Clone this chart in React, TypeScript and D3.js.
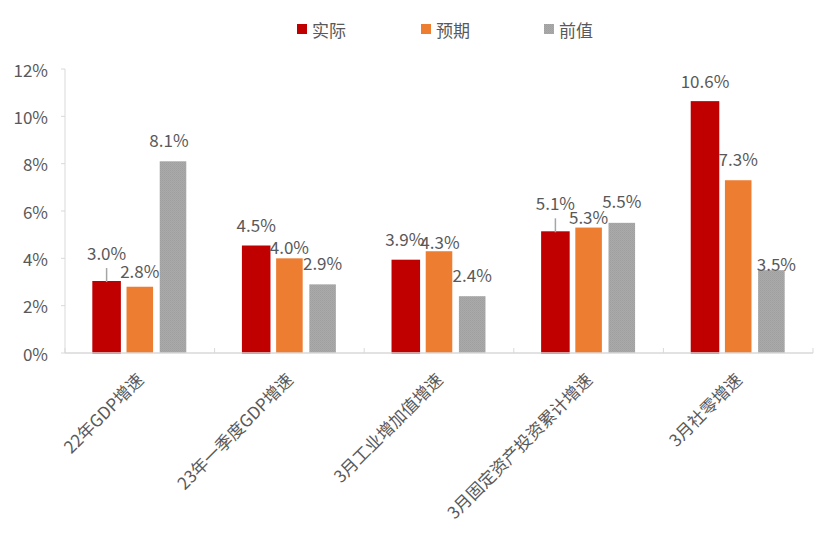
import React from "react";
import * as d3 from "d3";

const categories = ["22年GDP增速", "23年一季度GDP增速", "3月工业增加值增速", "3月固定资产投资累计增速", "3月社零增速"];
const seriesNames = ["实际", "预期", "前值"];
const actual = [3.0, 4.5, 3.9, 5.1, 10.6];
const expected = [2.8, 4.0, 4.3, 5.3, 7.3];
const previous = [8.1, 2.9, 2.4, 5.5, 3.5];
const yTicks = [0, 2, 4, 6, 8, 10, 12];

// label nudges (layout only) [series][category] -> [dx, dy]
const labelNudge: number[][][] = [
  [[0, -8], [0, 0], [-1, 0], [0, -8], [0, 0]],
  [[0, 6], [0, 10], [1, 12], [0, 11], [0, 0]],
  [[-4, 0], [0, 0], [0, 0], [0, 0], [5, 15]],
];
const leader: boolean[][] = [
  [true, false, false, true, false],
  [false, false, false, false, false],
  [false, false, false, false, false],
];

const W = 836, H = 536;
const M = { left: 65, right: 813, top: 69, bottom: 353 };
const colors = ["#C00000", "#ED7D31", "url(#grayPat)"];
const FONT = "'Noto Sans CJK SC', 'Noto Sans', sans-serif";
const TXT = "#595959";

export default function App() {
  const series = [actual, expected, previous];
  const x = d3.scaleBand<string>().domain(categories).range([M.left, M.right]).padding(0);
  const inner = d3.scaleBand<number>().domain([0, 1, 2]).range([25, x.bandwidth() - 25]).paddingInner(0.2).paddingOuter(0.1);
  const y = d3.scaleLinear().domain([0, 12]).range([M.bottom, M.top]);
  const bw = inner.bandwidth();

  const bounds = categories.map((c) => x(c)!).concat([M.right]);

  return (
    <svg width={W} height={H} style={{ position: "absolute", left: 0, top: 0, background: "#fff" }} fontFamily={FONT}>
      <defs>
        <pattern id="grayPat" width="2" height="2" patternUnits="userSpaceOnUse">
          <rect width="2" height="2" fill="#AAAAAA" />
          <rect width="1" height="1" fill="#9F9F9F" />
          <rect x="1" y="1" width="1" height="1" fill="#A3A3A3" />
        </pattern>
      </defs>
      {/* y axis */}
      <line x1={M.left} x2={M.left} y1={M.top} y2={M.bottom} stroke="#D9D9D9" strokeWidth={1} />
      {yTicks.map((t) => (
        <g key={t}>
          <line x1={M.left - 4} x2={M.left} y1={y(t)} y2={y(t)} stroke="#D9D9D9" />
          <text x={48} y={y(t)} textAnchor="end" dominantBaseline="central" fontSize={17} fill={TXT}>
            {t}%
          </text>
        </g>
      ))}
      {/* bars */}
      {series.map((s, si) =>
        s.map((v, ci) => {
          const bx = x(categories[ci])! + inner(si)!;
          return (
            <rect
              key={`${si}-${ci}`}
              x={bx}
              y={y(v)}
              width={bw}
              height={y(0) - y(v)}
              fill={colors[si]}
              stroke={si === 0 ? "#C00000" : "none"}
              strokeWidth={si === 0 ? 2 : 0}
            />
          );
        })
      )}
      {/* x axis */}
      <line x1={M.left} x2={M.right} y1={M.bottom} y2={M.bottom} stroke="#D9D9D9" strokeWidth={1.5} />
      {bounds.map((b, i) => (
        <line key={i} x1={b} x2={b} y1={M.bottom - 5} y2={M.bottom} stroke="#D9D9D9" />
      ))}
      {/* labels */}
      {series.map((s, si) =>
        s.map((v, ci) => {
          const cx = x(categories[ci])! + inner(si)! + bw / 2;
          const [dx, dy] = labelNudge[si][ci];
          const ly = y(v) - 22 + dy;
          return (
            <g key={`l${si}-${ci}`}>
              {leader[si][ci] && (
                <line x1={cx} x2={cx} y1={ly + 16} y2={y(v)} stroke="#A6A6A6" strokeWidth={1.5} />
              )}
              <text x={cx + dx} y={ly} textAnchor="middle" dominantBaseline="central" fontSize={17} fill={TXT}>
                {v.toFixed(1)}%
              </text>
            </g>
          );
        })
      )}
      {/* category labels */}
      {categories.map((c) => {
        const cx = x(c)! + x.bandwidth() / 2;
        return (
          <text
            key={c}
            transform={`translate(${cx + 5},${M.bottom + 28}) rotate(-45)`}
            textAnchor="end"
            fontSize={17}
            fill={TXT}
          >
            {c}
          </text>
        );
      })}
      {/* legend */}
      {seriesNames.map((n, i) => {
        const lx = [297, 421, 544][i];
        return (
          <g key={n}>
            <rect x={lx} y={24} width={10} height={10} fill={colors[i]} />
            <text x={lx + 15} y={29} dominantBaseline="central" fontSize={17} fill={TXT}>
              {n}
            </text>
          </g>
        );
      })}
    </svg>
  );
}
